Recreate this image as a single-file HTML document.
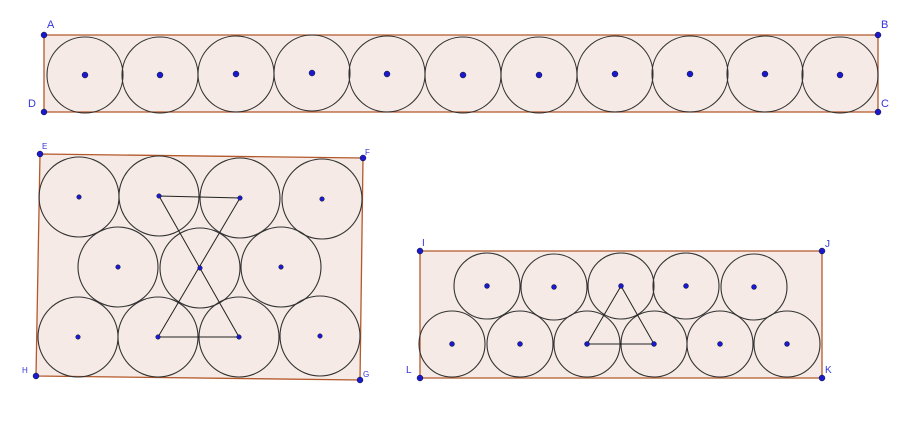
<!DOCTYPE html>
<html><head><meta charset="utf-8"><style>
html,body{margin:0;padding:0;background:#fff;}
svg{display:block;}
text{font-family:"Liberation Sans",sans-serif;fill:#3333dd;}
</style></head>
<body>
<svg id="fig" width="903" height="428" viewBox="0 0 903 428" xmlns="http://www.w3.org/2000/svg"></svg>
<script>
const rect1Labels = ["A","B","C","D"];
const rect1X = [44,878,878,44];
const rect1Y = [35,35,112,112];
const rect2Labels = ["E","F","G","H"];
const rect2X = [40,363,360,36];
const rect2Y = [154,158,380,376];
const rect3Labels = ["I","J","K","L"];
const rect3X = [420,822,822,420];
const rect3Y = [251,251,378,378];
const c1X = [85,160,236,312,387,463,539,615,690,765,840];
const c1Y = [75,75,74,73,74,75,75,74,74,74,75];
const c1R = 38;
const c2X = [79,159,240,322,118,200,281,78,158,239,320];
const c2Y = [197,196,198,199,267,268,267,337,337,337,336];
const c2R = 40;
const c3X = [487,554,621,686,754,452,520,587,654,720,787];
const c3Y = [286,287,286,286,287,344,344,344,344,344,344];
const c3R = 33;
const hourglass = [1,2,8,9];
const tri3 = [7,8,2];

const NS="http://www.w3.org/2000/svg";
const svg=document.getElementById('fig');
function mk(tag,attrs){const e=document.createElementNS(NS,tag);for(const k in attrs)e.setAttribute(k,attrs[k]);svg.appendChild(e);return e;}

function drawRect(xs,ys,name){
  const pts=xs.map((x,i)=>x+','+ys[i]).join(' ');
  const p=mk('polygon',{points:pts,fill:'#f5eae5',stroke:'#b4582a','stroke-width':1.3});
  
  
}
function drawCircles(xs,ys,r,name){
  xs.forEach((x,i)=>{
    const c=mk('circle',{cx:x,cy:ys[i],r:r,fill:'none',stroke:'#333','stroke-width':1.1});
    
    
  });
}
function drawCenters(xs,ys,name,rad){
  xs.forEach((x,i)=>{
    const d=mk('circle',{cx:x,cy:ys[i],r:rad,fill:'#1a1acc',stroke:'#000','stroke-width':0.4});
    
    
  });
}
function drawPoly(xs,ys,idx,name){
  const pts=idx.map(i=>xs[i]+','+ys[i]).join(' ');
  const t=mk('polygon',{points:pts,fill:'none',stroke:'#222','stroke-width':1});
  
  
}
function drawVerts(xs,ys,labels,offs,size){
  xs.forEach((x,i)=>{
    const d=mk('circle',{cx:x,cy:ys[i],r:3,fill:'#1a1acc',stroke:'#000','stroke-width':0.4});
    
    
    const t=mk('text',{x:x+offs[i][0],y:ys[i]+offs[i][1],'font-size':size});
    t.textContent=labels[i];
    
    
  });
}

drawRect(rect1X,rect1Y,'rectangle-abcd');
drawRect(rect2X,rect2Y,'rectangle-efgh');
drawRect(rect3X,rect3Y,'rectangle-ijkl');
drawCircles(c1X,c1Y,c1R,'row1');
drawCircles(c2X,c2Y,c2R,'hex');
drawCircles(c3X,c3Y,c3R,'strip');
drawPoly(c2X,c2Y,hourglass,'hourglass-triangles');
drawPoly(c3X,c3Y,tri3,'triangle-strip');
drawCenters(c1X,c1Y,'row1',3);
drawCenters(c2X,c2Y,'hex',2.3);
drawCenters(c3X,c3Y,'strip',2.5);
drawVerts(rect1X,rect1Y,rect1Labels,[[3,-7],[3,-7],[3,-5],[-16,-5]],11);
drawVerts(rect2X,rect2Y,rect2Labels,[[2,-5],[2,-3],[3,-3],[-14,-3]],8);
drawVerts(rect3X,rect3Y,rect3Labels,[[2,-5],[3,-4],[3,-5],[-14,-5]],10);
</script>
</body></html>
